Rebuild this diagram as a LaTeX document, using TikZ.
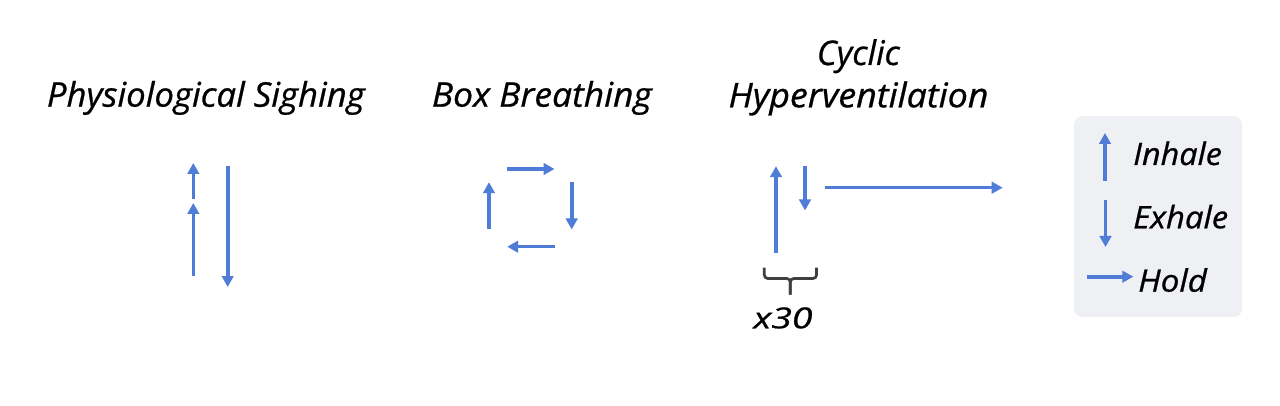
\documentclass[tikz,border=0pt]{standalone}
\usepackage{fontspec}
\setmainfont{Open Sans}[ItalicFeatures={FakeBold=0.7}]
\usepackage{graphicx}
\usetikzlibrary{arrows.meta}
\definecolor{arrowblue}{RGB}{78,124,214}
\definecolor{bracegray}{RGB}{64,64,64}
\definecolor{legendfill}{RGB}{238,240,244}
\newcommand{\fitw}[2]{\resizebox{#1}{\height}{#2}}
\tikzset{
  breath/.style={draw=arrowblue, line width=3.6pt, -{Triangle[length=11pt,width=11.5pt]}},
  title/.style={anchor=base west, inner sep=0pt, font=\fontsize{34}{40}\selectfont\itshape},
  legtext/.style={anchor=base west, inner sep=0pt, font=\fontsize{31}{36}\selectfont\itshape},
  bracestyle/.style={draw=bracegray, line width=2.7pt, rounded corners=3.5pt}
}
\begin{document}
\begin{tikzpicture}[x=1pt,y=-1pt]
\useasboundingbox (0,0) rectangle (1280,406);
\fill[white] (0,0) rectangle (1280,406);

% titles
\node[title] (tps) at (46.7,106.7) {\fitw{318pt}{Physiological Sighing}};
\node[title] (tbb) at (431.7,106.7) {\fitw{220pt}{Box Breathing}};
\node[title] (tcy) at (816.7,65) {\fitw{83pt}{Cyclic}};
\node[title] (thv) at (728.3,107.3) {\fitw{260pt}{Hyperventilation}};

% Physiological sighing arrows
\coordinate (p1s) at (193.3,199);   \coordinate (p1e) at (193.3,163);
\coordinate (p2s) at (193.3,276);   \coordinate (p2e) at (193.3,203);
\coordinate (p3s) at (227.7,166);   \coordinate (p3e) at (227.7,287);
\draw[breath] (p1s) -- (p1e);
\draw[breath] (p2s) -- (p2e);
\draw[breath] (p3s) -- (p3e);

% Box breathing arrows
\coordinate (b1s) at (506.7,169);   \coordinate (b1e) at (554.5,169);
\coordinate (b2s) at (571.7,182);   \coordinate (b2e) at (571.7,229.5);
\coordinate (b3s) at (554.5,246.7); \coordinate (b3e) at (507.2,246.7);
\coordinate (b4s) at (489,229);     \coordinate (b4e) at (489,182.2);
\draw[breath] (b1s) -- (b1e);
\draw[breath] (b2s) -- (b2e);
\draw[breath] (b3s) -- (b3e);
\draw[breath] (b4s) -- (b4e);

% Cyclic hyperventilation arrows
\coordinate (c1s) at (776,252.7);   \coordinate (c1e) at (776,166.2);
\coordinate (c2s) at (805,166);     \coordinate (c2e) at (805,210.5);
\coordinate (c3s) at (825.3,187.7); \coordinate (c3e) at (1002.7,187.7);
\draw[breath] (c1s) -- (c1e);
\draw[breath] (c2s) -- (c2e);
\draw[breath] (c3s) -- (c3e);

% brace and x30
\coordinate (brl) at (764.3,267.5);
\coordinate (brr) at (816.5,267.5);
\coordinate (brm) at (790.3,278.5);
\coordinate (brt) at (790.3,294.5);
\draw[bracestyle] (brl) |- (brm) -- (brt);
\draw[bracestyle] (brr) |- (brm) -- (brt);
\node[legtext, font=\fontsize{29}{34}\selectfont\itshape] (x30) at (753.3,328.3) {\fitw{59pt}{x30}};

% legend
\node[fill=legendfill, rounded corners=8pt, minimum width=167.7pt, minimum height=200.7pt, inner sep=0pt, anchor=north west] (legend) at (1074,116) {};
\coordinate (l1s) at (1105,180.7);   \coordinate (l1e) at (1105,133);
\coordinate (l2s) at (1105.5,200);   \coordinate (l2e) at (1105.5,247);
\coordinate (l3s) at (1086.7,276.7); \coordinate (l3e) at (1133.3,276.7);
\draw[breath] (l1s) -- (l1e);
\draw[breath] (l2s) -- (l2e);
\draw[breath] (l3s) -- (l3e);
\node[legtext] (tin) at (1133,165) {\fitw{88.7pt}{Inhale}};
\node[legtext] (tex) at (1133,228.3) {\fitw{95pt}{Exhale}};
\node[legtext] (tho) at (1138,291.7) {\fitw{68.7pt}{Hold}};
\end{tikzpicture}
\end{document}
